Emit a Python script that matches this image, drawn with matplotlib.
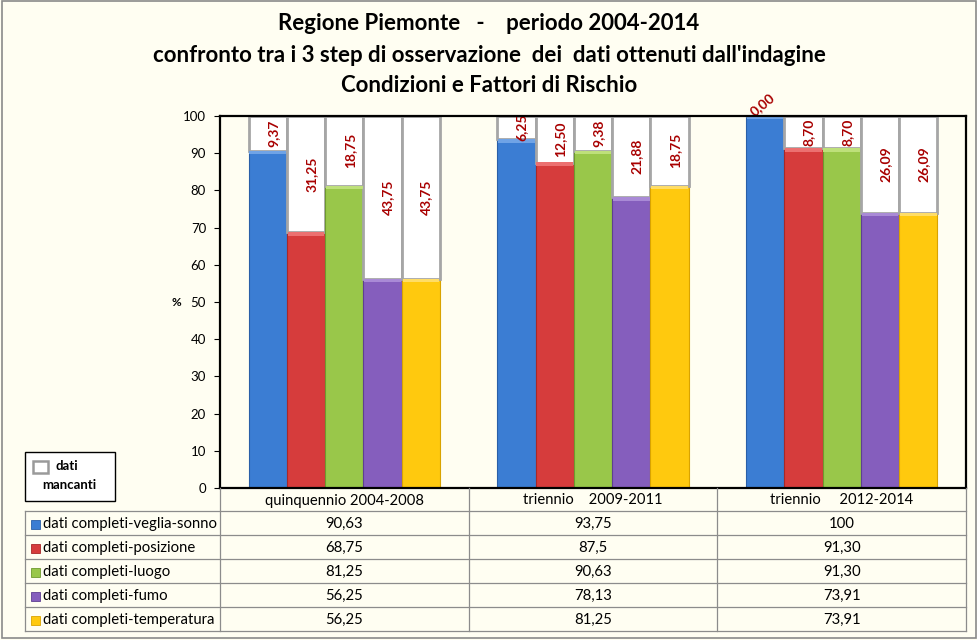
import matplotlib
matplotlib.use("Agg")
import matplotlib.pyplot as plt
from matplotlib.patches import Rectangle
import numpy as np

# DATA
# ----
periods = ["quinquennio 2004-2008", "triennio    2009-2011", "triennio     2012-2014"]
series = ["dati completi-veglia-sonno", "dati completi-posizione", "dati completi-luogo",
          "dati completi-fumo", "dati completi-temperatura"]
veglia_sonno = ["90,63", "93,75", "100"]
posizione = ["68,75", "87,5", "91,30"]
luogo = ["81,25", "90,63", "91,30"]
fumo = ["56,25", "78,13", "73,91"]
temperatura = ["56,25", "81,25", "73,91"]
complete_txt = [veglia_sonno, posizione, luogo, fumo, temperatura]

miss_veglia_sonno = [9.37, 6.25, 0.00]
miss_posizione = [31.25, 12.50, 8.70]
miss_luogo = [18.75, 9.38, 8.70]
miss_fumo = [43.75, 21.88, 26.09]
miss_temperatura = [43.75, 18.75, 26.09]
missing = [miss_veglia_sonno, miss_posizione, miss_luogo, miss_fumo, miss_temperatura]

yticks = list(range(0, 101, 10))

# STYLE
# -----
colors = ["#3B7DD3", "#D63C3C", "#99C74A", "#855EBD", "#FFC90E"]
edges = ["#2A5FA8", "#A82828", "#6E9A2E", "#5E3F91", "#D9A300"]
tops = ["#6FA3E6", "#EC7070", "#BEE07A", "#A98AD6", "#FFDD66"]
bg = "#FFFEF2"
label_red = "#A80000"
font = "Lato"

W, H = 978, 640
fig = plt.figure(figsize=(W / 100, H / 100), dpi=100, facecolor=bg)

# plot area in pixels
px_l, px_r, px_t, px_b = 220, 966, 116, 488
ax = fig.add_axes([px_l / W, 1 - px_b / H, (px_r - px_l) / W, (px_b - px_t) / H])
ax.set_facecolor(bg)

x = np.arange(len(periods))
bw = 0.154
for i in range(len(series)):
    vals = np.array([float(v.replace(",", ".")) for v in complete_txt[i]])
    miss = np.array(missing[i])
    xs = x + (i - 2) * bw
    ax.bar(xs, vals, bw, color=colors[i], edgecolor=edges[i], linewidth=0.8, zorder=2)
    ax.bar(xs, np.full(len(xs), 0.9), bw * 0.96, bottom=vals - 0.9,
           color=tops[i], linewidth=0, zorder=3)
    ax.bar(xs, miss, bw, bottom=vals, color="white", edgecolor="#A6A6A6",
           linewidth=2.0, zorder=2)
    for j in range(len(xs)):
        txt = f"{miss[j]:.2f}".replace(".", ",")
        if miss[j] > 0:
            ax.text(xs[j] + 0.022, vals[j] + miss[j] / 2, txt, rotation=90,
                    ha="center", va="center", color=label_red, fontsize=10,
                    fontweight="bold", family=font, zorder=4)
        else:
            ax.text(xs[j] - 0.01, vals[j] + 3.2, txt, rotation=40,
                    ha="center", va="center", color=label_red, fontsize=10,
                    fontweight="bold", family=font, zorder=4, clip_on=False)

ax.set_xlim(-0.5, len(periods) - 0.5)
ax.set_ylim(0, 100)
ax.set_yticks(yticks)
ax.set_yticklabels([str(t) for t in yticks], family=font, fontsize=9.5)
ax.tick_params(axis="y", direction="out", length=4, width=0.8, pad=6)
ax.set_xticks([])
for s in ax.spines.values():
    s.set_linewidth(1.6)
    s.set_color("black")
    s.set_zorder(5)
fig.text(176 / W, 1 - 302 / H, "%", family=font, fontsize=8.5, fontweight="bold",
         ha="center", va="center")

# title
title_lines = ["Regione Piemonte   -    periodo 2004-2014",
               "confronto tra i 3 step di osservazione  dei  dati ottenuti dall'indagine",
               "Condizioni e Fattori di Rischio"]
for t, yp in zip(title_lines, [23, 55, 85]):
    fig.text(489 / W, 1 - yp / H, t, family=font, fontsize=16, fontweight="bold",
             ha="center", va="center")

# overlay in pixel coordinates for the data table and legend box
ov = fig.add_axes([0, 0, 1, 1], facecolor="none")
ov.set_xlim(0, W)
ov.set_ylim(H, 0)
ov.axis("off")

grid_c = "#8C8C8C"
col_w = (px_r - px_l) / len(periods)
col_edges = [px_l + c * col_w for c in range(len(periods) + 1)]
tab_left = 25
row_h = 24
hdr_b = px_b + 23
rows_y = [hdr_b + r * row_h for r in range(len(series) + 1)]

# header row
for c in range(len(periods)):
    ov.text((col_edges[c] + col_edges[c + 1]) / 2, (px_b + hdr_b) / 2 + 1, periods[c],
            family=font, fontsize=10.6, ha="center", va="center")
for xe in col_edges:
    ov.plot([xe, xe], [px_b, rows_y[-1]], color=grid_c, lw=0.9)
for yr in rows_y:
    ov.plot([tab_left, px_r], [yr, yr], color=grid_c, lw=0.9)
ov.plot([tab_left, tab_left], [rows_y[0], rows_y[-1]], color=grid_c, lw=0.9)

for r in range(len(series)):
    yc = (rows_y[r] + rows_y[r + 1]) / 2 + 1
    ov.add_patch(Rectangle((31, yc - 4.5), 9, 9, facecolor=colors[r], edgecolor=edges[r], lw=0.6))
    ov.text(43, yc, series[r], family=font, fontsize=10.7, ha="left", va="center")
    for c in range(len(periods)):
        ov.text((col_edges[c] + col_edges[c + 1]) / 2, yc, complete_txt[r][c],
                family=font, fontsize=10.7, ha="center", va="center")

# legend box
ov.add_patch(Rectangle((25, 452), 90, 49, facecolor="white", edgecolor="black", lw=1.0))
ov.add_patch(Rectangle((33, 461), 15, 12, facecolor="white", edgecolor="#9A9A9A", lw=1.8))
ov.text(56, 466, "dati", family=font, fontsize=9.5, fontweight="bold", ha="left", va="center")
ov.text(69, 485, "mancanti", family=font, fontsize=9.5, fontweight="bold", ha="center", va="center")

# outer chart border
ov.add_patch(Rectangle((1.5, 1), W - 4, H - 3, facecolor="none", edgecolor="#8A8A8A", lw=1.2))

fig.savefig("out.png", dpi=100, facecolor=bg)
